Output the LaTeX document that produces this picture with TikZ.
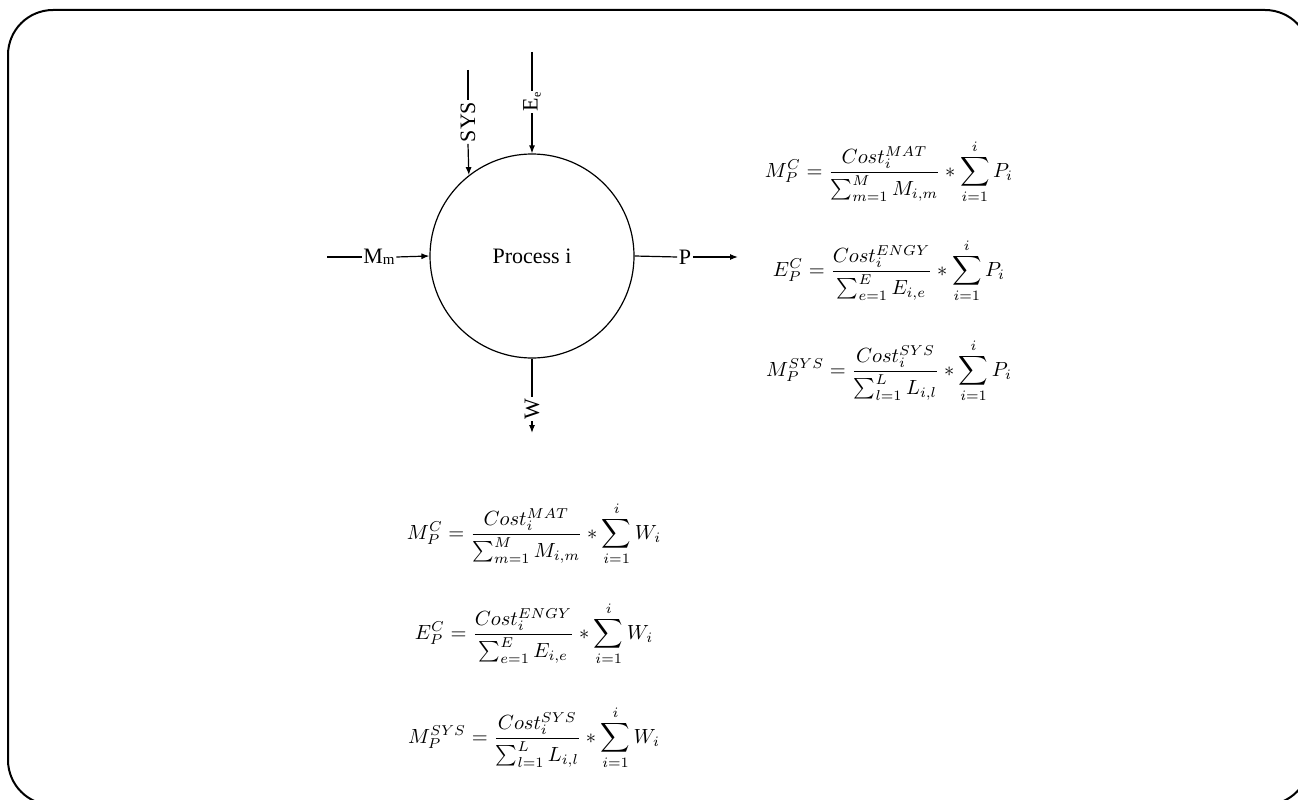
\documentclass[tikz,border=0pt]{standalone}
\usepackage{fontspec}
\setmainfont{Liberation Serif}
\usepackage{amsmath}
\usetikzlibrary{arrows.meta}
\newcommand{\eqscale}[1]{\scalebox{2.05}{$\displaystyle #1$}}
\begin{document}
\begin{tikzpicture}[x=1pt,y=-1pt,
  flow/.style={line width=1.2pt},
  arr/.style={flow,-{Latex[length=8pt,width=6pt]}},
  lbl/.style={font=\fontsize{22}{24}\selectfont, inner sep=1.5pt},
  vlbl/.style={lbl, rotate=90},
  eqn/.style={inner sep=0pt}]
\useasboundingbox (0,0) rectangle (1298,800);
\begin{scope}
\clip (0,0) rectangle (1298,800);
\draw[line width=2pt, rounded corners=45pt] (8,10) rectangle (1310,805);
\end{scope}
% process
\node[draw, circle, line width=1.2pt, minimum size=204pt, inner sep=0pt, font=\fontsize{22}{24}\selectfont] (proc) at (532,256) {Process i};
% Mm input
\coordinate (mstart) at (327,257);
\node[lbl] (mm) at (379,257) {M\raisebox{-0.5pt}{\fontsize{15}{16}\selectfont m}};
\draw[flow] (mstart) -- (mm.west);
\draw[arr] (mm.east) -- (proc.west);
% P output
\node[lbl] (p) at (685,257) {P};
\coordinate (pend) at (738,257);
\draw[flow] (proc.east) -- (p.west);
\draw[arr] (p.east) -- (pend);
% SYS input
\coordinate (systop) at (468,70);
\node[vlbl] (sys) at (468,122) {SYS};
\draw[flow] (systop) -- (sys.east);
\draw[arr] (sys.west) -- (proc.128.9);
% Ee input
\coordinate (eetop) at (532,52);
\node[vlbl] (ee) at (532,102) {E\raisebox{-3pt}{\fontsize{12}{12}\selectfont e}};
\draw[flow] (eetop) -- (ee.east);
\draw[arr] (ee.west) -- (proc.north);
% W output
\node[vlbl] (w) at (532,409) {W};
\coordinate (wend) at (532,433);
\draw[flow] (proc.south) -- (w.east);
\draw[arr] (w.west) -- (wend);
% equations right
\node[eqn] (eqp1) at (889,172) {\eqscale{M_P^C=\frac{Cost_i^{MAT}}{\sum_{m=1}^{M}M_{i,m}}*\sum_{i=1}^{i}P_i}};
\node[eqn] (eqp2) at (889,271) {\eqscale{E_P^C=\frac{Cost_i^{ENGY}}{\sum_{e=1}^{E}E_{i,e}}*\sum_{i=1}^{i}P_i}};
\node[eqn] (eqp3) at (889,371) {\eqscale{M_P^{SYS}=\frac{Cost_i^{SYS}}{\sum_{l=1}^{L}L_{i,l}}*\sum_{i=1}^{i}P_i}};
% equations bottom
\node[eqn] (eqw1) at (534,534) {\eqscale{M_P^C=\frac{Cost_i^{MAT}}{\sum_{m=1}^{M}M_{i,m}}*\sum_{i=1}^{i}W_i}};
\node[eqn] (eqw2) at (534,634) {\eqscale{E_P^C=\frac{Cost_i^{ENGY}}{\sum_{e=1}^{E}E_{i,e}}*\sum_{i=1}^{i}W_i}};
\node[eqn] (eqw3) at (534,738) {\eqscale{M_P^{SYS}=\frac{Cost_i^{SYS}}{\sum_{l=1}^{L}L_{i,l}}*\sum_{i=1}^{i}W_i}};
\end{tikzpicture}
\end{document}
